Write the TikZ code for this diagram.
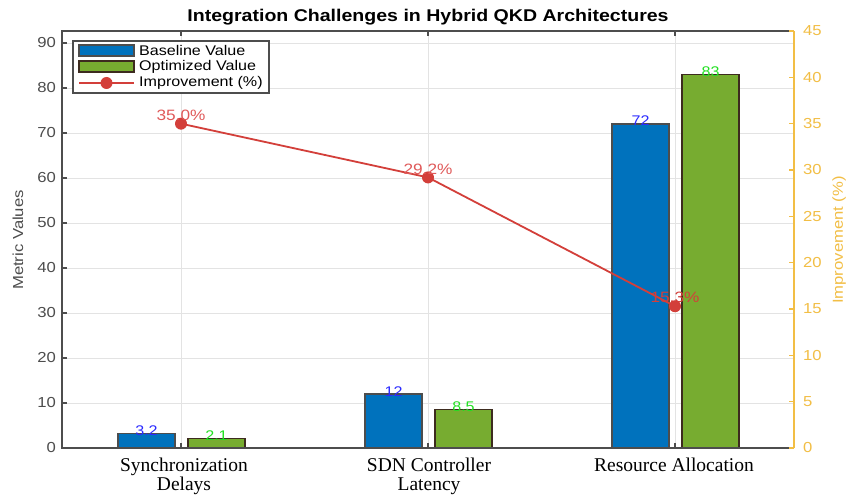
\documentclass[tikz,border=0pt]{standalone}
\usepackage{fontspec}
\setmainfont[FakeStretch=1.15]{Liberation Sans}
\newfontfamily\catfont{Liberation Serif}
\usepackage{tikz}
\usetikzlibrary{arrows.meta,positioning,calc}
\definecolor{qkdblue}{HTML}{0072BD}
\definecolor{qkdgreen}{HTML}{77AC30}
\definecolor{qkdbrown}{HTML}{3D2B1F}
\definecolor{qkdred}{HTML}{D33F3A}
\definecolor{qkdpink}{HTML}{E05A5A}
\definecolor{qkdyellow}{HTML}{F2BE45}
\definecolor{qkdaxis}{HTML}{4D4D4D}
\definecolor{qkdgrid}{HTML}{E3E3E3}
\definecolor{qkdval}{HTML}{2B2BFF}
\definecolor{qkdlime}{HTML}{22E022}

\begin{document}
\begin{tikzpicture}[x=1pt,y=1pt,font=\fontsize{14}{16}\selectfont,
    barbox/.style={draw=qkdaxis,line width=1.2pt},
    ticklab/.style={inner sep=0pt,text=qkdaxis,font=\fontsize{14.5}{16}\selectfont},
    pctlab/.style={anchor=base,inner sep=0pt,font=\fontsize{15}{17}\selectfont},
    catlab/.style={font=\catfont\fontsize{19.5}{19.5}\selectfont,align=center,anchor=north,inner sep=0pt,text=black}]
    \fill[white] (0,0) rectangle (851,496);
    \useasboundingbox (0,0) rectangle (851,496);
    % grid
    \foreach \v in {10,20,...,90}
      \draw[qkdgrid,line width=0.8pt] (62,{48+4.5*\v}) -- (794,{48+4.5*\v});
    \foreach \cx in {181,428,675}
      \draw[qkdgrid,line width=0.8pt] (\cx,48) -- (\cx,465);
    % bars
    \foreach \cx/\bv/\ov in {181/3.2/2.1,428/12/8.5,675/72/83}{
      \draw[barbox,fill=qkdblue] ({\cx-63},48) rectangle ({\cx-6},{48+4.5*\bv});
      \draw[barbox,draw=qkdbrown,fill=qkdgreen] ({\cx+7},48) rectangle ({\cx+64},{48+4.5*\ov});
      \node[anchor=base,inner sep=0pt,text=qkdval] (base\cx) at ({\cx-34.5},{46+4.5*\bv}) {\bv};
      \node[anchor=base,inner sep=0pt,text=qkdlime] (opt\cx) at ({\cx+35.5},{46+4.5*\ov}) {\ov};
    }
    % improvement line
    \coordinate (imp1) at (181,{48+9.2667*35.0});
    \coordinate (imp2) at (428,{48+9.2667*29.2});
    \coordinate (imp3) at (675,{48+9.2667*15.3});
    \draw[qkdred,line width=1.8pt] (imp1) -- (imp2) -- (imp3);
    \foreach \p in {imp1,imp2,imp3}
      \fill[qkdred] (\p) circle (6);
    \node[pctlab,text=qkdpink] (pct1) at ([yshift=3]imp1) {35.0\%};
    \node[pctlab,text=qkdpink] (pct2) at ([yshift=3]imp2) {29.2\%};
    \node[pctlab,text=qkdred] (pct3) at ([yshift=4]imp3) {15.3\%};
    % axes
    \draw[qkdaxis,line width=1.2pt] (794,465) -- (62,465) -- (62,48) -- (794,48);
    \draw[qkdyellow,line width=1.2pt] (794,48) -- (794,465);
    \foreach \v in {0,10,...,90}{
      \draw[qkdaxis,line width=1.2pt] (62,{48+4.5*\v}) -- (67,{48+4.5*\v});
      \node[ticklab,anchor=east] (yl\v) at (56,{48+4.5*\v}) {\v};
    }
    \foreach \p in {0,5,...,45}{
      \draw[qkdyellow,line width=1.2pt] (794,{48+9.2667*\p}) -- (789,{48+9.2667*\p});
      \node[ticklab,anchor=west,text=qkdyellow] (yr\p) at (803,{48+9.2667*\p}) {\p};
    }
    \foreach \cx in {181,428,675}{
      \draw[qkdaxis,line width=1.2pt] (\cx,48) -- (\cx,53);
      \draw[qkdaxis,line width=1.2pt] (\cx,465) -- (\cx,460);
    }
    \node[catlab] (cat1) at (184,38.5) {Synchronization\\Delays};
    \node[catlab] (cat2) at (429,38.5) {SDN Controller\\Latency};
    \node[catlab] (cat3) at (674,38.5) {Resource Allocation};
    \node[rotate=90,text=qkdaxis,font=\fontsize{14.5}{17}\selectfont] (ylab) at (18,256) {Metric Values};
    \node[rotate=90,text=qkdyellow,font=\fontsize{14.5}{17}\selectfont] (ylabr) at (839,256) {Improvement (\%)};
    \node[font=\bfseries\fontsize{17}{19}\selectfont] (title) at (428,479) {Integration Challenges in Hybrid QKD Architectures};
    % legend
    \draw[qkdaxis,fill=white,line width=1.2pt] (73,403) rectangle (269,455);
    \draw[barbox,fill=qkdblue] (79,440) rectangle (134,451);
    \draw[barbox,draw=qkdbrown,fill=qkdgreen] (79,424) rectangle (134,435);
    \draw[qkdred,line width=1.8pt] (79,413) -- (134,413);
    \fill[qkdred] (106.5,413) circle (6);
    \node[anchor=west,inner sep=0pt] (leg1) at (139,445.5) {Baseline Value};
    \node[anchor=west,inner sep=0pt] (leg2) at (139,429.5) {Optimized Value};
    \node[anchor=west,inner sep=0pt] (leg3) at (139,413) {Improvement (\%)};
  \end{tikzpicture}
\end{document}
